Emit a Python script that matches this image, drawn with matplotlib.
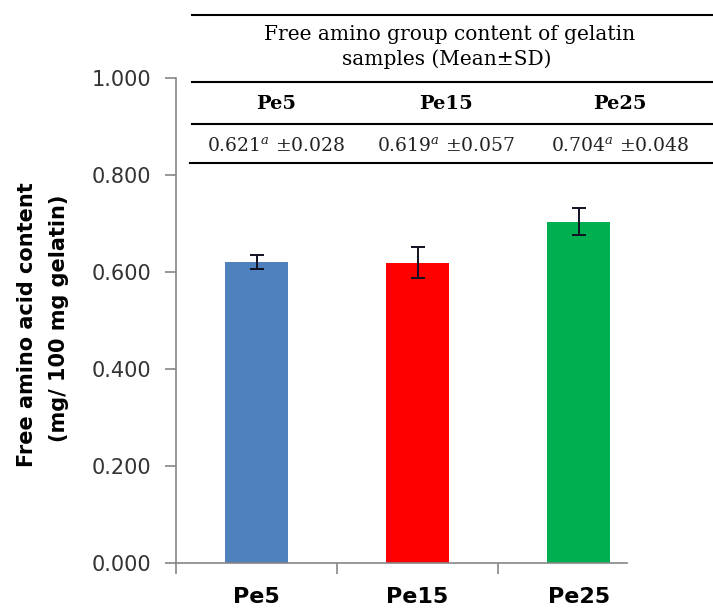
import numpy as np
import matplotlib
matplotlib.use("Agg")
import matplotlib.pyplot as plt
from matplotlib.lines import Line2D

# Valores do gráfico
amostras = ["Pe5", "Pe15", "Pe25"]
medias = [0.621, 0.619, 0.704]
desvios_tabela = ["0.028", "0.057", "0.048"]
letras = ["a", "a", "a"]
# barras de erro como desenhadas no gráfico
erros = [0.015, 0.032, 0.028]
cores = ["#4F81BD", "#FF0000", "#00B050"]
yticks = [0.0, 0.2, 0.4, 0.6, 0.8, 1.0]

W, H = 713, 611
fig = plt.figure(figsize=(W / 100, H / 100), dpi=100)
plt.rcParams["mathtext.fontset"] = "dejavuserif"

def fx(px):
    return px / W

def fy(py):
    return 1 - py / H

ax = fig.add_axes([fx(176), fy(563), fx(627) - fx(176), fy(78) - fy(563)])

x = np.arange(len(amostras))
ax.bar(x, medias, width=0.39, color=cores, zorder=2)
ax.errorbar(x, medias, yerr=erros, fmt="none", ecolor="#111122",
            elinewidth=1.4, capsize=5, capthick=1.4, zorder=3)

ax.set_xlim(-0.5, 2.3)
ax.set_ylim(0, 1.0)
ax.set_yticks(yticks)
ax.set_yticklabels([f"{v:.3f}" for v in yticks], fontsize=15,
                   color="#333333", family="DejaVu Sans")
ax.set_xticks(x)
ax.set_xticklabels(amostras, fontsize=16, fontweight="bold",
                   family="DejaVu Sans")
ax.set_xticks([-0.5, 0.5, 1.5], minor=True)
ax.tick_params(axis="x", which="major", length=0, pad=17)
ax.tick_params(axis="x", which="minor", length=8, width=1.2,
               color="#868686", direction="out")
ax.tick_params(axis="y", length=8, width=1.2, color="#868686",
               direction="out", pad=10)

for s in ["top", "right"]:
    ax.spines[s].set_visible(False)
for s in ["left", "bottom"]:
    ax.spines[s].set_color("#868686")
    ax.spines[s].set_linewidth(1.2)

fig.text(fx(27), fy(325), "Free amino acid content", rotation=90,
         ha="center", va="center", fontsize=15, fontweight="bold",
         family="DejaVu Sans")
fig.text(fx(59), fy(318), "(mg/ 100 mg gelatin)", rotation=90,
         ha="center", va="center", fontsize=15, fontweight="bold",
         family="DejaVu Sans")

# Tabela no topo
for py, x0 in [(15, 192), (82, 192), (124, 192), (163, 190)]:
    fig.add_artist(Line2D([fx(x0), 1.0], [fy(py), fy(py)], color="black",
                          linewidth=1.5))

fig.text(fx(450), fy(34), "Free amino group content of gelatin",
         ha="center", va="center", fontsize=14.5, family="DejaVu Serif")
fig.text(fx(447), fy(59), "samples (Mean±SD)",
         ha="center", va="center", fontsize=14.5, family="DejaVu Serif")

centros = [276, 446, 620]
for cx, nome, m, d, l in zip(centros, amostras, medias, desvios_tabela, letras):
    fig.text(fx(cx), fy(104), nome, ha="center", va="center", fontsize=14,
             fontweight="bold", family="DejaVu Serif")
    fig.text(fx(cx), fy(146), f"{m:.3f}$^{{{l}}}$ ±{d}", ha="center",
             va="center", fontsize=13.5, family="DejaVu Serif", color="#222222")

fig.savefig("out.png", dpi=100)
